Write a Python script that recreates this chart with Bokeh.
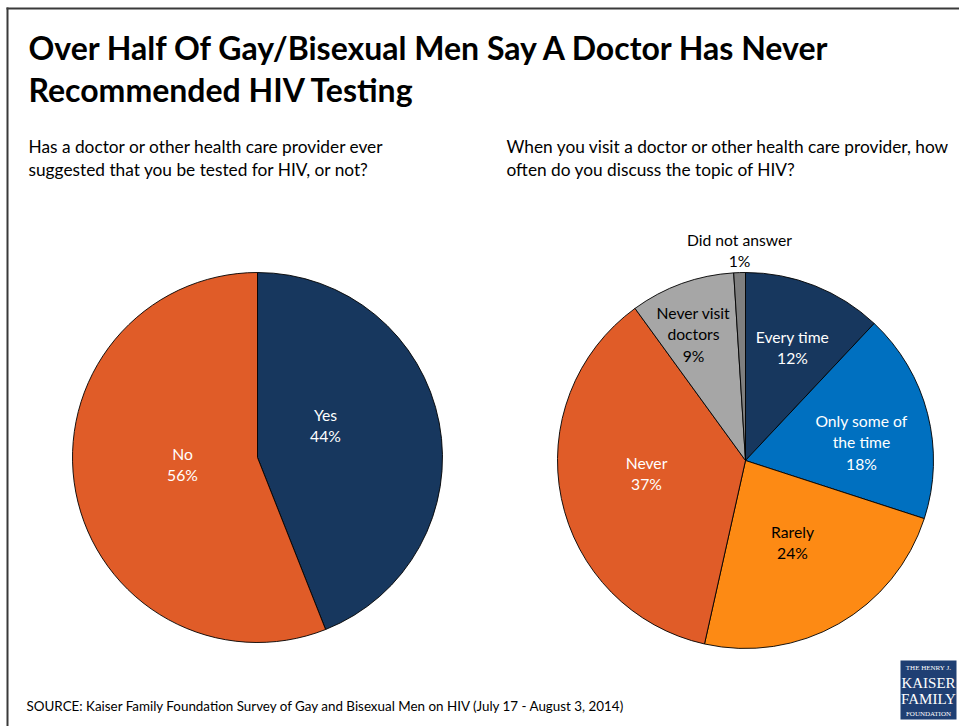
import math
from bokeh.plotting import figure
from bokeh.models import ColumnDataSource, Range1d
from bokeh.core.properties import value
from bokeh.embed import file_html
from bokeh.resources import INLINE

# ---------------- data ----------------
title_lines = ["Over Half Of Gay/Bisexual Men Say A Doctor Has Never",
               "Recommended HIV Testing"]
left_question = ["Has a doctor or other health care provider ever",
                 "suggested that you be tested for HIV, or not?"]
right_question = ["When you visit a doctor or other health care provider, how",
                  "often do you discuss the topic of HIV?"]
source_note = ("SOURCE: Kaiser Family Foundation Survey of Gay and Bisexual Men "
               "on HIV (July 17 - August 3, 2014)")

left_categories = ["Yes", "No"]
left_values = [44, 56]
left_pct_labels = ["44%", "56%"]

right_categories = ["Every time", "Only some of\nthe time", "Rarely", "Never",
                    "Never visit\ndoctors", "Did not answer"]
right_values = [12, 18, 23.5, 36.5, 9, 1]
right_pct_labels = ["12%", "18%", "24%", "37%", "9%", "1%"]

logo_lines = ["THE HENRY J.", "KAISER", "FAMILY", "FOUNDATION"]

# ---------------- styles / layout ----------------
W, H = 959, 726
FONT = "Lato"
NAVY = "#17375E"
ORANGE_RED = "#E05C28"
left_colors = [NAVY, ORANGE_RED]
left_text_colors = ["white", "white"]
right_colors = [NAVY, "#0070C0", "#FD8A14", ORANGE_RED, "#A6A6A6", "#7F7F7F"]
right_text_colors = ["white", "white", "black", "white", "black", "black"]


def px(X):
    return X


def py(Y):
    return H - Y


p = figure(width=W, height=H, output_backend="svg", toolbar_location=None,
           x_range=Range1d(0, W), y_range=Range1d(0, H),
           min_border=0, min_border_left=0, min_border_right=0,
           min_border_top=0, min_border_bottom=0)
p.axis.visible = False
p.grid.visible = False
p.outline_line_color = None
p.background_fill_color = "white"
p.border_fill_color = "white"

# frame lines (top and left)
p.segment(x0=[px(7), px(6)], y0=[py(726), py(8)], x1=[px(7), px(959)], y1=[py(7), py(8)],
          line_color="#3A3A3A", line_width=2)


def pie(cx, cy, r, values, colors):
    total = float(sum(values))
    starts, ends = [], []
    c = 0.0
    for v in values:
        starts.append(math.pi / 2 - 2 * math.pi * c / total)
        c += v
        ends.append(math.pi / 2 - 2 * math.pi * c / total)
    src = ColumnDataSource(dict(start=starts, end=ends, color=colors))
    p.wedge(x=cx, y=cy, radius=r, start_angle="start", end_angle="end",
            direction="clock", fill_color="color", line_color="black",
            line_width=0.9, source=src)


# left pie
LCX, LCY, LR = px(257), py(457), 185
pie(LCX, LCY, LR, left_values, left_colors)
# right pie
RCX, RCY, RR = px(745), py(460), 188
pie(RCX, RCY, RR, right_values, right_colors)

# data labels: offsets of label centres from pie centre (pixels, y down)
left_label_offsets = [(68, -32), (-75, 7)]
right_label_offsets = [(47, -113), (116, -18), (47, 82), (-99, 13), (-52, -126), (-6, -210)]


def labels(cx, cy, cats, pcts, offsets, colors):
    xs, ys, texts = [], [], []
    for cat, pc, (dx, dy) in zip(cats, pcts, offsets):
        xs.append(cx + dx)
        ys.append(cy - dy)
        texts.append(cat + "\n" + pc)
    src = ColumnDataSource(dict(x=xs, y=ys, text=texts, color=colors))
    p.text(x="x", y="y", text="text", source=src, text_color="color",
           text_font=value(FONT), text_font_size="15.7px",
           text_align="center", text_baseline="middle", text_line_height=1.2)


labels(LCX, LCY, left_categories, left_pct_labels, left_label_offsets, left_text_colors)
labels(RCX, RCY, right_categories, right_pct_labels, right_label_offsets, right_text_colors)

# title
p.text(x=[px(28), px(28)], y=[py(47), py(89)], text=title_lines,
       text_font=value(FONT), text_font_size="32px", text_font_style="bold",
       text_color="black", text_baseline="middle", text_align="left")

# questions
p.text(x=[px(28), px(28)], y=[py(146), py(169)], text=left_question,
       text_font=value(FONT), text_font_size="17.3px", text_color="black",
       text_baseline="middle", text_align="left")
p.text(x=[px(506), px(506)], y=[py(146), py(169)], text=right_question,
       text_font=value(FONT), text_font_size="17.3px", text_color="black",
       text_baseline="middle", text_align="left")

# source
p.text(x=[px(26)], y=[py(705)], text=[source_note],
       text_font=value(FONT), text_font_size="13.4px", text_color="black",
       text_baseline="middle", text_align="left")

# logo
LX0, LX1, LY0, LY1 = px(900), px(956), py(719), py(660)
p.quad(left=[LX0], right=[LX1], bottom=[LY0], top=[LY1],
       fill_color="#1F3F73", line_color=None)
lcx = (LX0 + LX1) / 2
p.text(x=[lcx] * 4, y=[py(667), py(682), py(698), py(713)], text=logo_lines,
       text_font=value("Liberation Serif"),
       text_font_size=["7px", "15px", "15px", "7px"],
       text_color="white", text_align="center", text_baseline="middle")

open("out.html", "w").write(file_html(p, INLINE))
